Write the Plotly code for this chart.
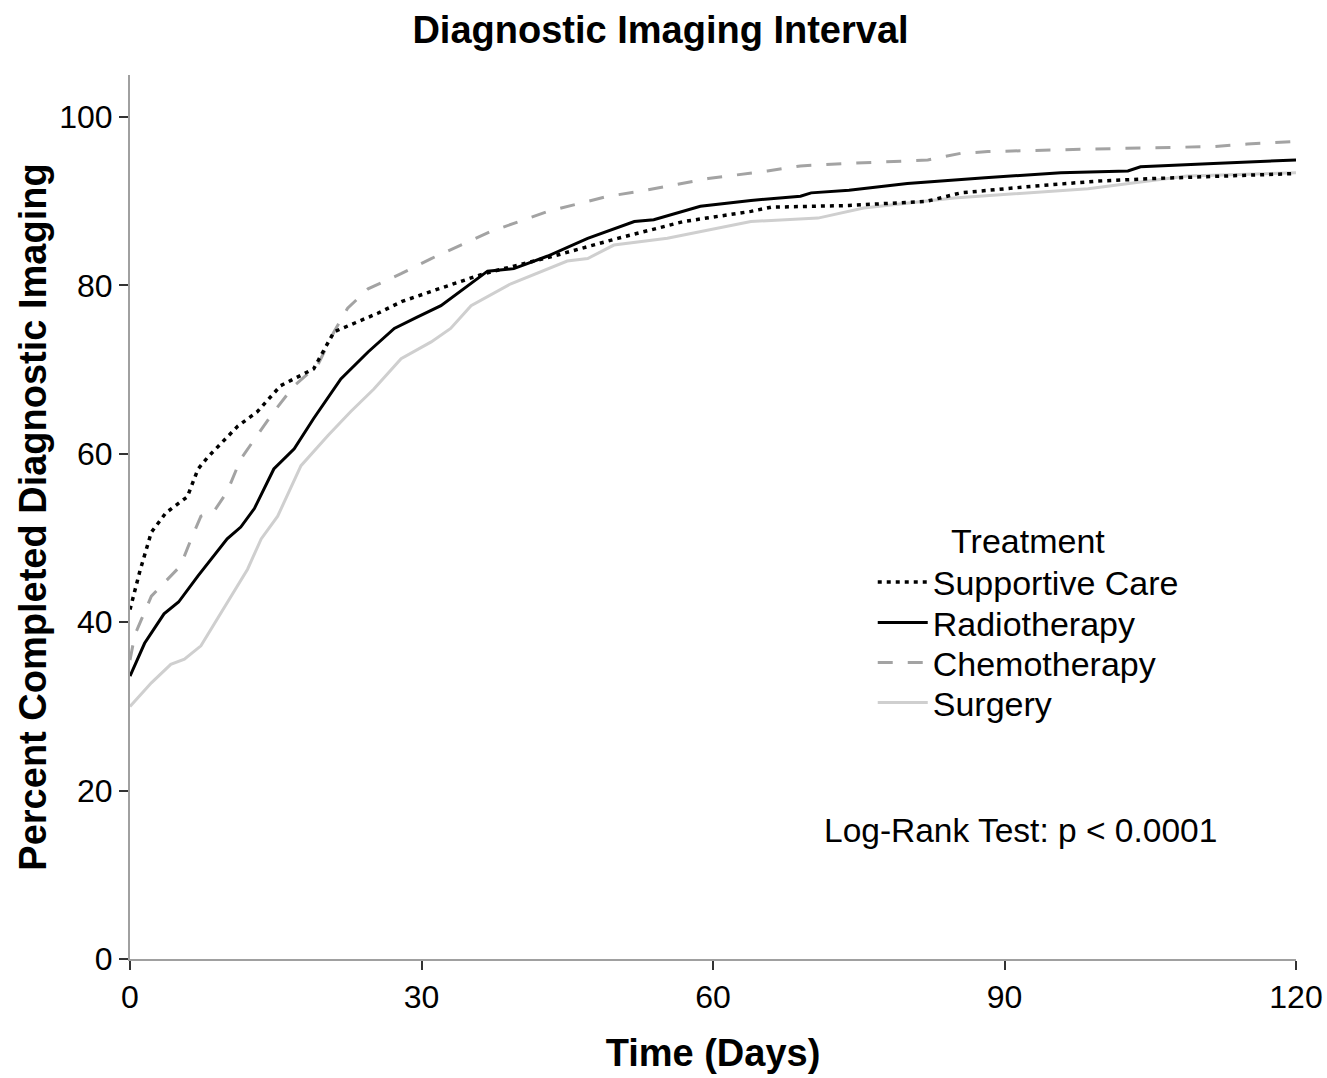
import plotly.graph_objects as go

FONT = "Liberation Sans, Arial, sans-serif"

# ---- data ----
sc_days = [0, 1, 2.2, 3.7, 5.9, 7, 8, 11.1, 13.1, 15.5, 18.9, 21, 25.5, 28, 31, 36.4, 43.3,
           50.2, 57, 63.9, 66, 74, 82, 85.5, 93, 99.6, 105.3, 112.2, 120]
sc_pct = [41.5, 46, 50.7, 53, 54.9, 58.2, 59.6, 63.3, 65, 68.1, 70.1, 74.5, 76.7, 78.1, 79.3,
          81.4, 83.4, 85.6, 87.6, 88.8, 89.3, 89.5, 90, 91, 91.8, 92.4, 92.7, 93, 93.3]

rt_days = [0, 1.5, 3.5, 5, 7, 10, 11.4, 12.8, 14.8, 16.9, 18.9, 21.7, 24.5, 27.2, 29.5, 32,
           36.8, 39.5, 43, 47.1, 51.9, 53.9, 58.7, 63.9, 69, 70.1, 74, 80, 88, 95.8, 102.7,
           104, 111.5, 120]
rt_pct = [33.6, 37.5, 41, 42.4, 45.5, 49.9, 51.3, 53.5, 58.2, 60.6, 64.2, 68.9, 72.1, 74.9,
          76.2, 77.6, 81.7, 82, 83.5, 85.6, 87.6, 87.8, 89.4, 90.1, 90.6, 91, 91.3, 92.1,
          92.8, 93.4, 93.6, 94.1, 94.5, 94.9]

ch_days = [0, 0.5, 2.2, 5.2, 6.3, 7.3, 8.6, 10, 11.4, 14.8, 16.9, 19.3, 21, 22.4, 24.5, 27.9,
           31, 34, 37.1, 43, 49.2, 52.6, 56, 59.5, 65.6, 69, 74, 82.1, 85.5, 88.3, 98.6,
           105.3, 111.5, 115, 120]
ch_pct = [35.5, 38.5, 43.1, 46.7, 49.9, 52.6, 53.1, 55.5, 59.4, 65, 68.1, 70.5, 74.5, 77.3,
          79.6, 81.4, 83.2, 84.8, 86.4, 88.8, 90.6, 91.2, 91.9, 92.7, 93.6, 94.2, 94.5, 94.9,
          95.7, 95.9, 96.2, 96.4, 96.5, 96.8, 97.1]

su_days = [0, 2.2, 4.2, 5.6, 7.3, 10, 12.1, 13.5, 15.2, 17.6, 20.4, 22.7, 25.1, 27.9, 31, 33,
           35.1, 39.2, 45, 47.1, 49.8, 55.3, 58.7, 63.9, 70.8, 75.5, 84.8, 98.6, 108.8, 120]
su_pct = [30, 32.8, 35, 35.6, 37.2, 42.4, 46.3, 49.9, 52.6, 58.6, 62.2, 65, 67.7, 71.3, 73.3,
          74.9, 77.6, 80.2, 82.9, 83.2, 84.8, 85.6, 86.4, 87.6, 88, 89.2, 90.4, 91.5, 93, 93.4]

x_ticks = [0, 30, 60, 90, 120]
y_ticks = [0, 20, 40, 60, 80, 100]

fig = go.Figure()
fig.add_trace(go.Scatter(x=su_days, y=su_pct, mode="lines", name="Surgery",
                         line=dict(color="#cfcfcf", width=3), legend="legend4"))
fig.add_trace(go.Scatter(x=ch_days, y=ch_pct, mode="lines", name="Chemotherapy",
                         line=dict(color="#a3a3a3", width=3, dash="15px,15px"), legend="legend3"))
fig.add_trace(go.Scatter(x=rt_days, y=rt_pct, mode="lines", name="Radiotherapy",
                         line=dict(color="#000000", width=3), legend="legend2"))
fig.add_trace(go.Scatter(x=sc_days, y=sc_pct, mode="lines", name="Supportive Care",
                         line=dict(color="#000000", width=3.5, dash="4px,5px"), legend="legend"))

fig.add_annotation(x=91.6, y=15.3, xref="x", yref="y", text="Log-Rank Test: p < 0.0001",
                   showarrow=False, font=dict(family=FONT, size=33.5, color="#000000"))

LEG_X = 0.637
leg_font = dict(family=FONT, size=34, color="#000000")
leg_common = dict(x=LEG_X, xanchor="left", bgcolor="rgba(0,0,0,0)", borderwidth=0,
                  font=leg_font, itemwidth=50)

fig.update_layout(
    width=1327, height=1078,
    margin=dict(l=130, r=31, t=75, b=119),
    paper_bgcolor="white", plot_bgcolor="white",
    font=dict(family=FONT, color="#000000"),
    title=dict(text="<b>Diagnostic Imaging Interval</b>", x=(660.5 / 1327), xanchor="center",
               y=1 - 30 / 1078, yanchor="middle", yref="container",
               font=dict(family=FONT, size=38, color="#000000")),
    showlegend=True,
    legend=dict(y=0.3935, yanchor="bottom",
                title=dict(text="Treatment", side="top center",
                           font=dict(family=FONT, size=34, color="#000000")),
                **leg_common),
    legend2=dict(y=(959 - 623) / 884, yanchor="middle", **leg_common),
    legend3=dict(y=(959 - 663) / 884, yanchor="middle", **leg_common),
    legend4=dict(y=(959 - 703) / 884, yanchor="middle", **leg_common),
)

fig.update_xaxes(range=[0, 120], tickvals=x_ticks, ticktext=[str(v) for v in x_ticks],
                 automargin=False,
                 showgrid=False, zeroline=False, showline=True, linecolor="#a0a0a0",
                 linewidth=2, ticks="outside", ticklen=9, tickwidth=2, tickcolor="#333333",
                 tickfont=dict(family=FONT, size=32, color="#000000"),
                 title=dict(text="<b>Time (Days)</b>", standoff=25,
                            font=dict(family=FONT, size=38, color="#000000")))
fig.update_yaxes(range=[0, 105], tickvals=y_ticks, ticktext=[str(v) for v in y_ticks],
                 automargin=False,
                 showgrid=False, zeroline=False, showline=True, linecolor="#a0a0a0",
                 linewidth=2, ticks="outside", ticklen=9, tickwidth=2, tickcolor="#333333",
                 tickfont=dict(family=FONT, size=32, color="#000000"),
                 title=dict(text="<b>Percent Completed Diagnostic Imaging</b>", standoff=1,
                            font=dict(family=FONT, size=38, color="#000000")))

fig.write_html("out.html")
